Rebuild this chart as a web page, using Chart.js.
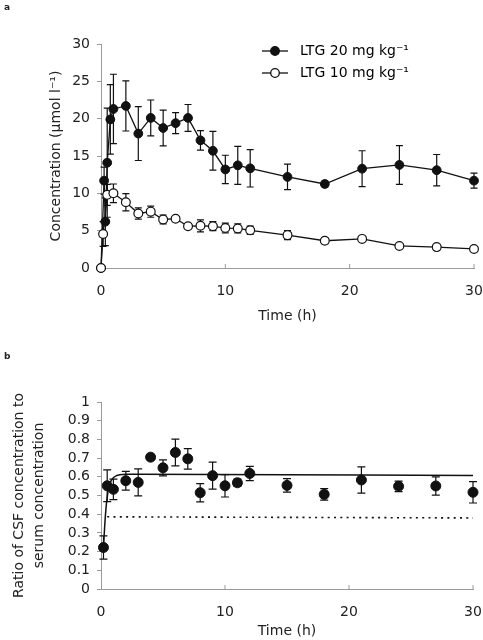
<!DOCTYPE html>
<html>
<head>
<meta charset="utf-8">
<script src="https://cdn.jsdelivr.net/npm/chart.js@4.4.1/dist/chart.umd.min.js"></script>
<style>
  body { margin: 0; background: #fff; }
  #wrap { position: relative; width: 483px; height: 640px; overflow: hidden; }
  canvas { position: absolute; left: 0; }
  .tag { position: absolute; left: 4px; font: bold 9px "DejaVu Sans", sans-serif; color: #222; }
</style>
</head>
<body>
<div id="wrap">
  <canvas id="chartB" width="483" height="320" style="top:320px"></canvas>
  <canvas id="chartA" width="483" height="330" style="top:0"></canvas>
  <div class="tag" style="top:2px">a</div>
  <div class="tag" style="top:351px">b</div>
</div>
<script>
// panel a: serum concentration
const timeHi = [0, 0.25, 0.35, 0.5, 0.75, 1, 2, 3, 4, 5, 6, 7, 8, 9, 10, 11, 12, 15, 18, 21, 24, 27, 30];
const concHi = [0, 11.7, 6.2, 14.1, 19.9, 21.3, 21.7, 18.0, 20.1, 18.75, 19.4, 20.1, 17.1, 15.7, 13.2, 13.75, 13.35, 12.2, 11.25, 13.3, 13.8, 13.1, 11.7];
const errHi = [0, 1.8, 3.2, 7.3, 4.65, 4.65, 3.35, 3.6, 2.4, 2.4, 1.4, 1.8, 1.3, 2.6, 1.9, 2.55, 2.5, 1.7, 0.4, 2.4, 2.6, 2.1, 1.0];

const timeLo = [0, 0.17, 0.5, 1, 2, 3, 4, 5, 6, 7, 8, 9, 10, 11, 12, 15, 18, 21, 24, 27, 30];
const concLo = [0, 4.55, 9.8, 10.0, 8.8, 7.3, 7.55, 6.5, 6.6, 5.6, 5.65, 5.6, 5.35, 5.3, 5.05, 4.4, 3.65, 3.9, 2.95, 2.8, 2.55];
const errLo = [0, 1.65, 1.4, 1.25, 1.15, 0.75, 0.75, 0.6, 0.3, 0.3, 0.8, 0.6, 0.65, 0.6, 0.55, 0.6, 0.4, 0.2, 0.15, 0.15, 0.15];

const seriesNames = ['LTG 20 mg kg⁻¹', 'LTG 10 mg kg⁻¹'];
const yTicksA = ['0', '5', '10', '15', '20', '25', '30'];

// panel b: CSF / serum ratio
const timeRatio = [0.2, 0.5, 1, 2, 3, 4, 5, 6, 7, 8, 9, 10, 11, 12, 15, 18, 21, 24, 27, 30];
const ratio = [0.222, 0.552, 0.533, 0.579, 0.570, 0.705, 0.648, 0.730, 0.696, 0.515, 0.606, 0.552, 0.568, 0.618, 0.554, 0.506, 0.583, 0.549, 0.551, 0.517];
const ratioErr = [0.062, 0.085, 0.055, 0.05, 0.072, 0.015, 0.043, 0.072, 0.055, 0.049, 0.072, 0.06, 0.02, 0.038, 0.036, 0.031, 0.07, 0.028, 0.049, 0.057];

const fitTime = [0.2, 0.3, 0.4, 0.5, 0.6, 0.75, 1, 1.25, 1.5, 2, 3, 30];
const fitRatio = [0.22, 0.34, 0.43, 0.49, 0.535, 0.57, 0.595, 0.606, 0.611, 0.613, 0.613, 0.607];

const dotTime = [0.5, 30];
const dotRatio = [0.386, 0.38];

const yTicksB = ['0', '0.1', '0.2', '0.3', '0.4', '0.5', '0.6', '0.7', '0.8', '0.9', '1'];
const xTicks = ['0', '10', '20', '30'];

const pts = (xs, ys) => xs.map((x, i) => ({ x: x, y: ys[i] }));

Chart.defaults.font.family = '"DejaVu Sans", sans-serif';
Chart.defaults.font.size = 14;
Chart.defaults.color = '#222';

const ink = '#111';
const axisGrey = '#9a9a9a';

const errorBars = {
  id: 'errorBars',
  beforeDatasetsDraw(chart) {
    const { ctx, scales: { x, y } } = chart;
    chart.data.datasets.forEach(ds => {
      if (!ds.errors) return;
      ctx.save();
      ctx.strokeStyle = ink;
      ctx.lineWidth = 1.2;
      ds.data.forEach((p, i) => {
        const e = ds.errors[i];
        if (!e) return;
        const px = x.getPixelForValue(p.x);
        const top = y.getPixelForValue(p.y + e);
        const bot = y.getPixelForValue(p.y - e);
        const c = ds.capWidth / 2;
        ctx.beginPath();
        ctx.moveTo(px, top); ctx.lineTo(px, bot);
        ctx.moveTo(px - c, top); ctx.lineTo(px + c, top);
        ctx.moveTo(px - c, bot); ctx.lineTo(px + c, bot);
        ctx.stroke();
      });
      ctx.restore();
    });
  }
};

// small inward tick marks on the time axis
const innerTicks = {
  id: 'innerTicks',
  afterDraw(chart) {
    const { ctx, scales: { x } } = chart;
    ctx.save();
    ctx.strokeStyle = axisGrey;
    ctx.lineWidth = 1;
    x.ticks.forEach(t => {
      if (t.value === 0) return;
      const px = x.getPixelForValue(t.value);
      ctx.beginPath();
      ctx.moveTo(px, x.top);
      ctx.lineTo(px, x.top - 4);
      ctx.stroke();
    });
    ctx.restore();
  }
};

function legendMark(filled) {
  const c = document.createElement('canvas');
  c.width = 28; c.height = 12;
  const g = c.getContext('2d');
  g.strokeStyle = ink; g.lineWidth = 1.3;
  g.beginPath(); g.moveTo(1, 6); g.lineTo(27, 6); g.stroke();
  g.beginPath(); g.arc(14, 6, 4.3, 0, Math.PI * 2);
  g.fillStyle = filled ? ink : '#fff';
  g.fill(); g.stroke();
  return c;
}

const moveLegend = {
  id: 'moveLegend',
  afterLayout(chart) {
    if (chart.legend) {
      chart.legend.left = 249;
      chart.legend.top = 36;
    }
  }
};

function timeAxis(height, tickPad, titlePad) {
  return {
    type: 'linear', min: 0, max: 30,
    ticks: { stepSize: 10, padding: tickPad, autoSkip: false, callback: (v, i) => xTicks[i] },
    grid: { display: false, drawTicks: false },
    border: { color: axisGrey, width: 1 },
    title: { display: true, text: 'Time (h)', padding: titlePad, font: { size: 14, lineHeight: 1.2 } },
    afterFit: s => { s.height = height; s.paddingLeft = 0; s.paddingRight = 0; }
  };
}

new Chart(document.getElementById('chartA'), {
  type: 'scatter',
  data: {
    datasets: [
      {
        label: seriesNames[0], data: pts(timeHi, concHi), errors: errHi, capWidth: 7,
        showLine: true, borderColor: ink, borderWidth: 1.3, tension: 0,
        pointRadius: 4.4, pointBackgroundColor: ink, pointBorderColor: ink, pointBorderWidth: 1,
        clip: false, order: 1
      },
      {
        label: seriesNames[1], data: pts(timeLo, concLo), errors: errLo, capWidth: 7,
        showLine: true, borderColor: ink, borderWidth: 1.3, tension: 0,
        pointRadius: 4.4, pointBackgroundColor: '#fff', pointBorderColor: ink, pointBorderWidth: 1.2,
        clip: false, order: 0
      }
    ]
  },
  options: {
    responsive: false, animation: false, devicePixelRatio: 1,
    layout: { padding: { top: 44, left: 44, right: 9, bottom: 0 } },
    plugins: {
      tooltip: { enabled: false },
      legend: {
        position: 'chartArea',
        align: 'start',
        onClick: null,
        labels: {
          usePointStyle: true, pointStyleWidth: 36, padding: 8,
          font: { size: 14 }, color: '#222',
          generateLabels: () => seriesNames.map((t, i) => ({
            text: t, pointStyle: legendMark(i === 0), datasetIndex: i,
            fillStyle: 'transparent', strokeStyle: 'transparent', lineWidth: 0, hidden: false
          }))
        }
      }
    },
    scales: {
      x: timeAxis(62, 15, { top: 0, bottom: 5 }),
      y: {
        type: 'linear', min: 0, max: 30,
        ticks: { stepSize: 5, padding: 7, autoSkip: false, callback: (v, i) => yTicksA[i] },
        grid: { drawOnChartArea: false, drawTicks: true, tickLength: 4, color: axisGrey },
        border: { color: axisGrey, width: 1 },
        title: { display: true, text: 'Concentration (µmol l⁻¹)', padding: { top: 4, bottom: 4 }, font: { size: 14, lineHeight: 1.2 } },
        afterFit: s => { s.width = 57; }
      }
    }
  },
  plugins: [errorBars, innerTicks, moveLegend]
});

new Chart(document.getElementById('chartB'), {
  type: 'scatter',
  data: {
    datasets: [
      {
        label: 'ratio', data: pts(timeRatio, ratio), errors: ratioErr, capWidth: 8,
        showLine: false, pointRadius: 5, pointBackgroundColor: ink, pointBorderColor: ink, pointBorderWidth: 1,
        clip: false, order: 0
      },
      {
        label: 'fit', data: pts(fitTime, fitRatio),
        showLine: true, borderColor: ink, borderWidth: 1.5, cubicInterpolationMode: 'monotone',
        pointRadius: 0, clip: false, order: 1
      },
      {
        label: 'reference', data: pts(dotTime, dotRatio),
        showLine: true, borderColor: ink, borderWidth: 1.6, borderDash: [2, 4.3],
        pointRadius: 0, clip: false, order: 2
      }
    ]
  },
  options: {
    responsive: false, animation: false, devicePixelRatio: 1,
    layout: { padding: { top: 82, left: 5, right: 10, bottom: 0 } },
    plugins: { tooltip: { enabled: false }, legend: { display: false } },
    scales: {
      x: timeAxis(51, 15, { top: 0, bottom: 0 }),
      y: {
        type: 'linear', min: 0, max: 1,
        ticks: { stepSize: 0.1, padding: 7, autoSkip: false, callback: (v, i) => yTicksB[i] },
        grid: { drawOnChartArea: false, drawTicks: true, tickLength: 4, color: axisGrey },
        border: { color: axisGrey, width: 1 },
        title: {
          display: true, text: ['Ratio of CSF concentration to', 'serum concentration'],
          padding: { top: 4, bottom: 4 }, font: { size: 14, lineHeight: 20 / 14 }
        },
        afterFit: s => { s.width = 96; }
      }
    }
  },
  plugins: [errorBars, innerTicks]
});
</script>
</body>
</html>
